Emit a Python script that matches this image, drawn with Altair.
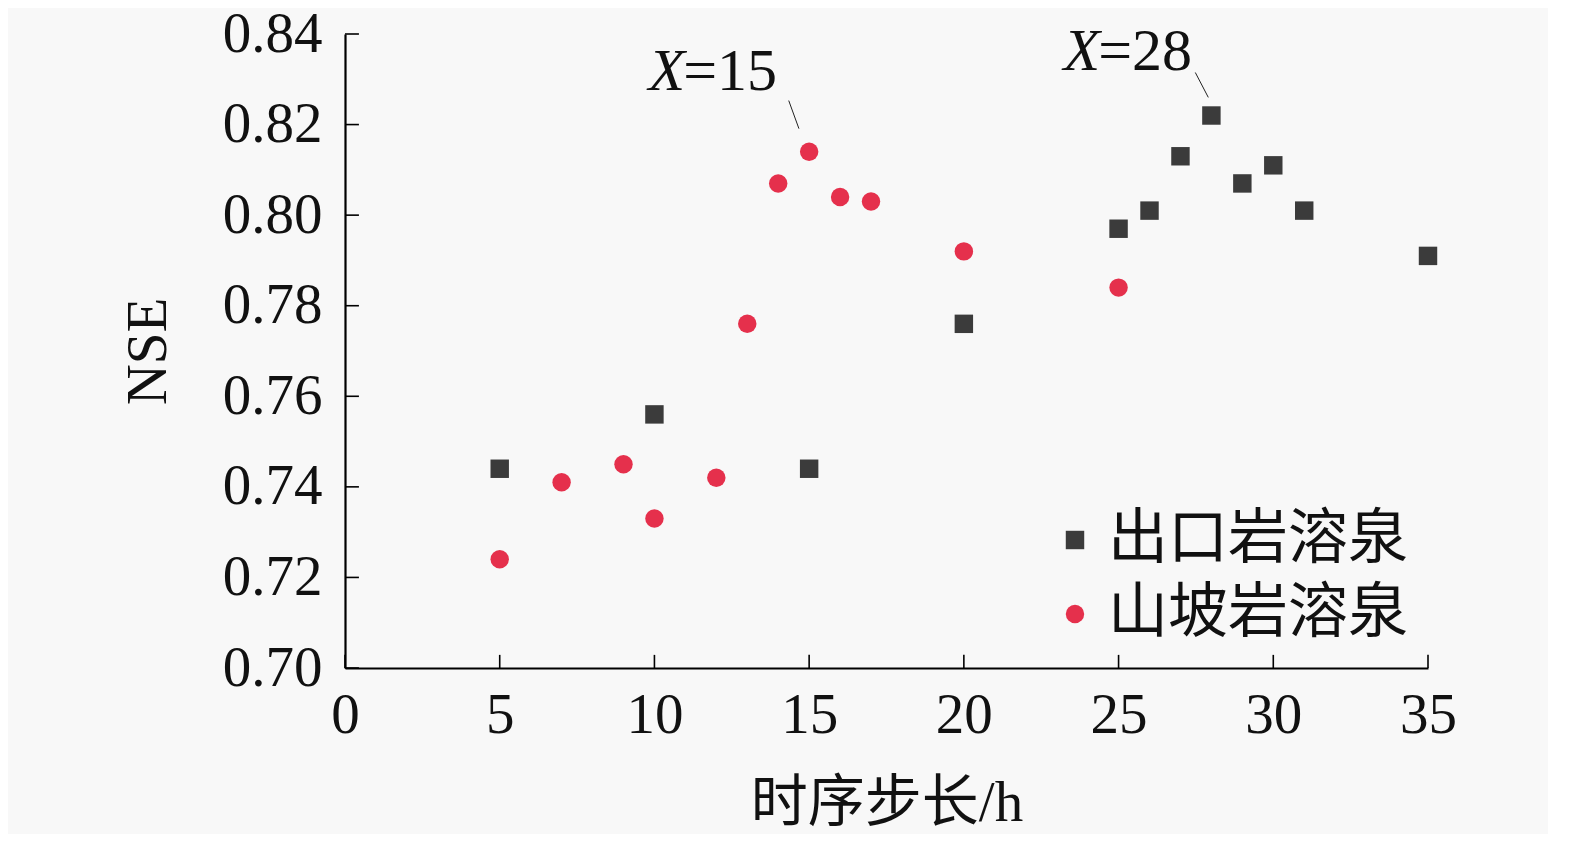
import altair as alt
import pandas as pd

# ---- data ----
series_names = ["出口岩溶泉", "山坡岩溶泉"]
outlet_x = [5, 10, 15, 20, 25, 26, 27, 28, 29, 30, 31, 35]
outlet_nse = [0.744, 0.756, 0.744, 0.776, 0.797, 0.801, 0.813, 0.822, 0.807, 0.811, 0.801, 0.791]
slope_x = [5, 7, 9, 10, 12, 13, 14, 15, 16, 17, 20, 25]
slope_nse = [0.724, 0.741, 0.745, 0.733, 0.742, 0.776, 0.807, 0.814, 0.804, 0.803, 0.792, 0.784]

x_ticks = [0, 5, 10, 15, 20, 25, 30, 35]
y_ticks = [0.70, 0.72, 0.74, 0.76, 0.78, 0.80, 0.82, 0.84]

# annotations: italic "X" + "=value"
ann_split_x = [10.93, 24.34]
ann_y = [0.8315, 0.8360]
ann_rest = ["=15", "=28"]
lead_x = [14.34, 27.48]
lead_x2 = [14.67, 27.90]
lead_y = [0.8253, 0.8315]
lead_y2 = [0.8191, 0.8260]

X_DOM = [0, 35]
Y_DOM = [0.70, 0.84]
XTICK_LEN = 0.0029   # in NSE units (~13px)
YTICK_LEN = 0.45     # in x units (~14px)

SERIF = "Liberation Serif, Noto Sans CJK SC"
COLORS = ["#3b3b3b", "#e5304c"]

pts = pd.DataFrame(
    {"x": outlet_x + slope_x,
     "nse": outlet_nse + slope_nse,
     "s": [series_names[0]] * len(outlet_x) + [series_names[1]] * len(slope_x)}
)

xs = alt.Scale(domain=X_DOM, nice=False, zero=False)
ys = alt.Scale(domain=Y_DOM, nice=False, zero=False)

points = alt.Chart(pts).mark_point(filled=True, opacity=1, size=340).encode(
    x=alt.X("x:Q", scale=xs, title="时序步长/h",
            axis=alt.Axis(values=x_ticks, ticks=False, grid=False, labelPadding=19,
                          labelFlush=False, titlePadding=32, format="d")),
    y=alt.Y("nse:Q", scale=ys, title="NSE",
            axis=alt.Axis(values=y_ticks, ticks=False, grid=False, labelPadding=23,
                          labelFlush=False, titlePadding=45, format=".2f")),
    color=alt.Color("s:N", scale=alt.Scale(domain=series_names, range=COLORS),
                    legend=alt.Legend(title=None, orient="none", legendX=700, legendY=476,
                                      symbolSize=340, labelFontSize=60, labelFont=SERIF,
                                      labelColor="#111", rowPadding=14, labelOffset=3,
                                      labelLimit=0, padding=0, symbolStrokeWidth=0)),
    shape=alt.Shape("s:N", scale=alt.Scale(domain=series_names, range=["square", "circle"])),
)

xt = pd.DataFrame({"t": x_ticks, "y0": [Y_DOM[0]] * len(x_ticks),
                   "y1": [Y_DOM[0] + XTICK_LEN] * len(x_ticks)})
x_tick_rules = alt.Chart(xt).mark_rule(color="black", strokeWidth=1.6).encode(
    x=alt.X("t:Q", scale=xs), y=alt.Y("y0:Q", scale=ys), y2="y1:Q")

yt = pd.DataFrame({"t": y_ticks, "x0": [X_DOM[0]] * len(y_ticks),
                   "x1": [X_DOM[0] + YTICK_LEN] * len(y_ticks)})
y_tick_rules = alt.Chart(yt).mark_rule(color="black", strokeWidth=1.6).encode(
    y=alt.Y("t:Q", scale=ys), x=alt.X("x0:Q", scale=xs), x2="x1:Q")

ann = pd.DataFrame({"x": ann_split_x, "y": ann_y, "rest": ann_rest,
                    "lx": lead_x, "lx2": lead_x2, "ly": lead_y, "ly2": lead_y2})
ann_x = alt.Chart(ann).mark_text(text="X", font="Liberation Serif", fontStyle="italic",
                                 fontSize=60, align="right", baseline="middle",
                                 color="#111", dx=2).encode(
    x=alt.X("x:Q", scale=xs), y=alt.Y("y:Q", scale=ys))
ann_rest_t = alt.Chart(ann).mark_text(font="Liberation Serif", fontSize=60, align="left",
                                      baseline="middle", color="#111").encode(
    x=alt.X("x:Q", scale=xs), y=alt.Y("y:Q", scale=ys), text="rest:N")
leaders = alt.Chart(ann).mark_rule(color="#222", strokeWidth=1).encode(
    x=alt.X("lx:Q", scale=xs), x2="lx2:Q", y=alt.Y("ly:Q", scale=ys), y2="ly2:Q")

chart = alt.layer(points, x_tick_rules, y_tick_rules, leaders, ann_x, ann_rest_t).properties(
    width=1083, height=634, background="#f8f8f8",
    autosize=alt.AutoSizeParams(type="none"),
    padding={"left": 337, "top": 26, "right": 120, "bottom": 166},
).configure_view(stroke=None).configure_axis(
    domainColor="black", domainWidth=2.2,
    labelFont="Liberation Serif", labelFontSize=57, labelColor="#111",
    titleFont=SERIF, titleFontSize=57, titleFontWeight="normal", titleColor="#111",
    labelOverlap=False,
)

chart.save("out.html", embed_options={"renderer": "svg", "actions": False})
